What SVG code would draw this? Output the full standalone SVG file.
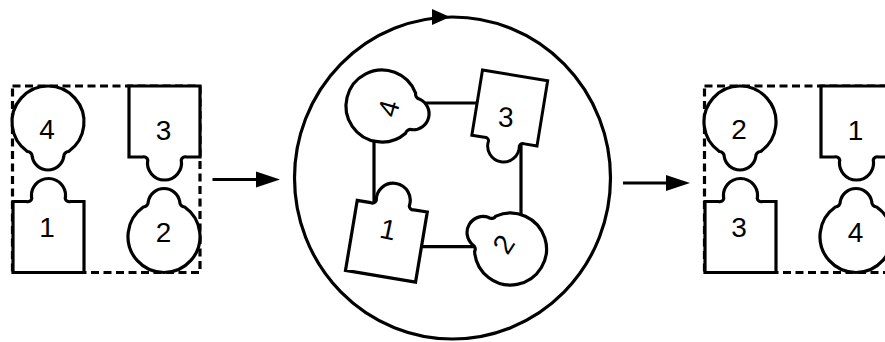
<svg xmlns="http://www.w3.org/2000/svg" xmlns:xlink="http://www.w3.org/1999/xlink" width="885" height="342" viewBox="0 0 885 342">
<style>
.p{fill:#fff;stroke:#000;stroke-width:3.2;stroke-linejoin:miter}
.l{fill:none;stroke:#000;stroke-width:3.2}
.d{fill:none;stroke:#000;stroke-width:3.2;stroke-dasharray:8 4.5}
.t{font-family:"Liberation Sans",Arial,Helvetica,sans-serif;font-size:28px;text-anchor:middle;fill:#000}
.h{fill:#000;stroke:none}
</style>
<defs>
<path id="head" d="M -20.65 29.49 A 36 36 0 1 1 20.65 29.49 A 5 5 0 0 0 15.76 34.78 A 16 16 0 0 1 -15.76 34.78 A 5 5 0 0 0 -20.65 29.49 Z"/>
<path id="sock" d="M -35.5 35.5 L -35.5 -35.5 L -22 -35.5 A 4 4 0 0 0 -16.74 -38.55 A 17 17 0 1 1 16.74 -38.55 A 4 4 0 0 0 22 -35.5 L 35.5 -35.5 L 35.5 35.5 Z"/>
</defs>

<g id="connectors">
<rect class="d" x="12.5" y="86" width="187.5" height="186.5"/>
<rect class="d" x="704.5" y="86" width="187.5" height="186.5"/>
<line class="l" x1="212.5" y1="179.5" x2="258" y2="179.5"/>
<polygon class="h" points="256,171.5 280,179.5 256,187.5"/>
<line class="l" x1="623" y1="183" x2="668" y2="183"/>
<polygon class="h" points="666,175 690,183 666,191"/>
<ellipse class="l" cx="452.5" cy="178" rx="158" ry="161"/>
<polygon class="h" points="432,9 450,17 432,25"/>
<line class="l" x1="420" y1="103" x2="480" y2="103"/>
<line class="l" x1="374" y1="135" x2="374" y2="205"/>
<line class="l" x1="521" y1="140" x2="521" y2="220"/>
<line class="l" x1="415" y1="246.7" x2="480" y2="246.7"/>
</g>

<g id="left-4"><use class="p" href="#head" transform="translate(48,122)"/><text class="t" x="47" y="139">4</text></g>
<g id="left-3"><use class="p" href="#sock" transform="translate(164.5,121.5) rotate(180)"/><text class="t" x="163.5" y="140">3</text></g>
<g id="left-1"><use class="p" href="#sock" transform="translate(48.5,237)"/><text class="t" x="47" y="236.7">1</text></g>
<g id="left-2"><use class="p" href="#head" transform="translate(164,236.5) rotate(180)"/><text class="t" x="163.5" y="241.7">2</text></g>

<g id="mid-4"><use class="p" href="#head" transform="translate(382,106) rotate(-76)"/><text class="t" transform="translate(388.3,108.3) rotate(-74)" y="10">4</text></g>
<g id="mid-3"><use class="p" href="#sock" transform="translate(509.75,108) rotate(189.3) scale(0.93)"/><text class="t" transform="translate(505.8,116.7) rotate(2)" y="10">3</text></g>
<g id="mid-1"><use class="p" href="#sock" transform="translate(386.4,241.2) rotate(9.5)"/><text class="t" transform="translate(388.3,229.2) rotate(12)" y="10">1</text></g>
<g id="mid-2"><use class="p" href="#head" transform="translate(510.5,249) rotate(121)"/><text class="t" transform="translate(503.3,244) rotate(-57)" y="10">2</text></g>

<g id="right-2"><use class="p" href="#head" transform="translate(740,122)"/><text class="t" x="739" y="139">2</text></g>
<g id="right-1"><use class="p" href="#sock" transform="translate(856.5,121.5) rotate(180)"/><text class="t" x="855.5" y="140">1</text></g>
<g id="right-3"><use class="p" href="#sock" transform="translate(740.5,237)"/><text class="t" x="739" y="236.7">3</text></g>
<g id="right-4"><use class="p" href="#head" transform="translate(856,236.5) rotate(180)"/><text class="t" x="855.5" y="241.7">4</text></g>
</svg>
